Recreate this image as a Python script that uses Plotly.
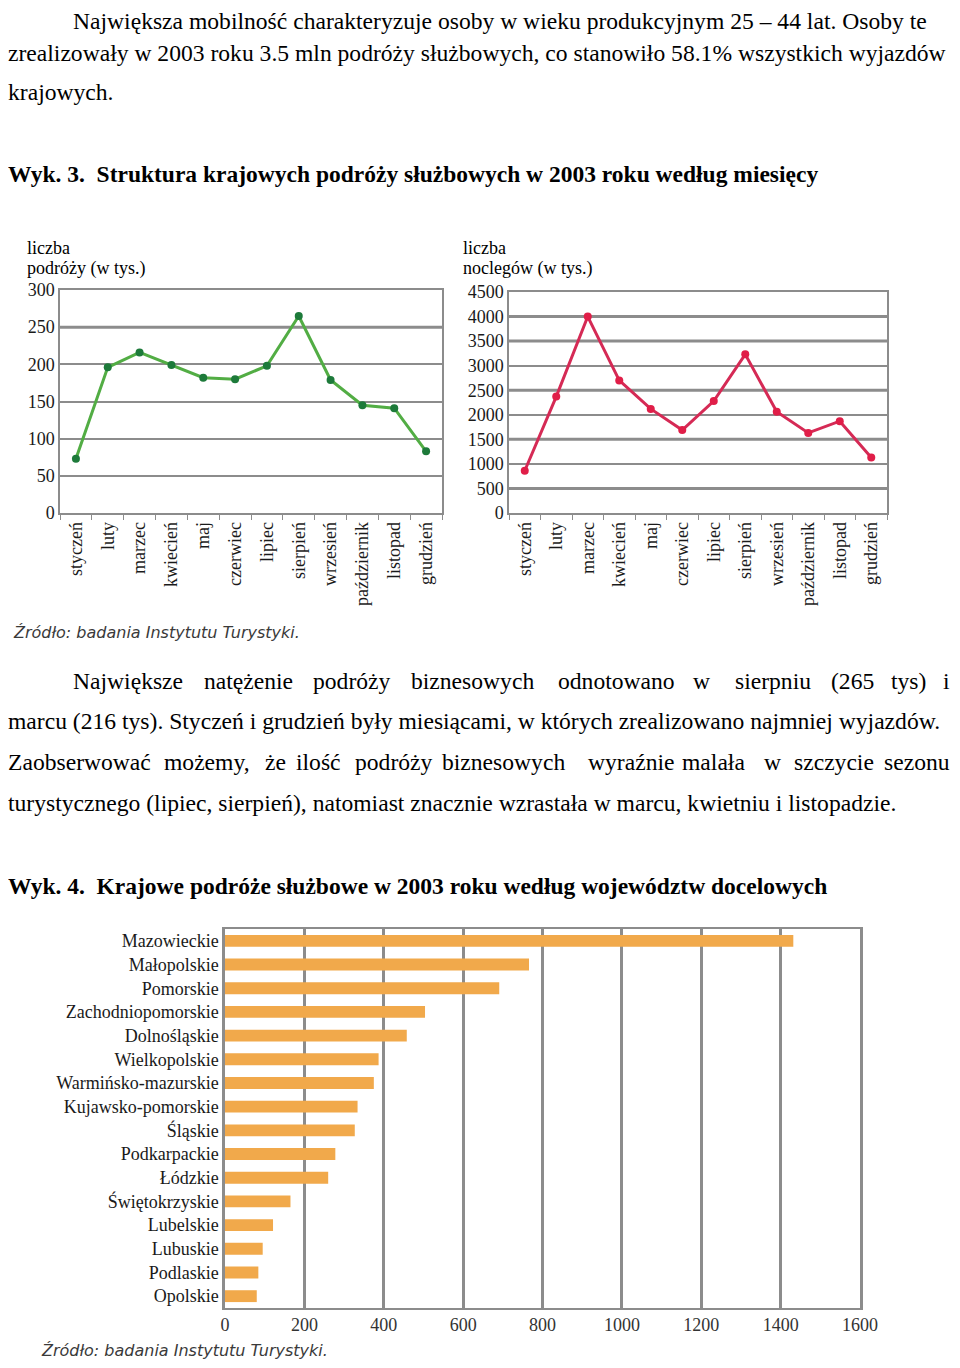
import plotly.graph_objects as go

# page body margin (8 px) is left around the figure, so the figure is sized
# to fit inside the window without scrollbars
W, H = 944, 1352
OFF = 8

months = ["styczeń", "luty", "marzec", "kwiecień", "maj", "czerwiec", "lipiec",
          "sierpień", "wrzesień", "październik", "listopad", "grudzień"]
trips = [73, 196, 216, 199, 182, 180, 198, 265, 179, 145, 141, 83]
nights = [860, 2370, 4000, 2700, 2120, 1690, 2280, 3230, 2060, 1630, 1870, 1130]

regions = ["Mazowieckie", "Małopolskie", "Pomorskie", "Zachodniopomorskie",
           "Dolnośląskie", "Wielkopolskie", "Warmińsko-mazurskie",
           "Kujawsko-pomorskie", "Śląskie", "Podkarpackie", "Łódzkie",
           "Świętokrzyskie", "Lubelskie", "Lubuskie", "Podlaskie", "Opolskie"]
region_trips = [1432, 766, 691, 504, 458, 387, 375, 334, 327, 278, 260,
                165, 121, 95, 84, 80]

SERIF = "Liberation Serif"
GRID = "#8c8c8c"
BODY = 23.6


def px(x):
    return (x - OFF) / W


def py(y):
    return 1 - (y - OFF) / H


fig = go.Figure()

fig.add_trace(go.Scatter(
    x=months, y=trips, mode="lines+markers", xaxis="x", yaxis="y",
    line=dict(color="#52ad44", width=3),
    marker=dict(color="#1d7a3a", size=8), showlegend=False))
fig.add_trace(go.Scatter(
    x=months, y=nights, mode="lines+markers", xaxis="x2", yaxis="y2",
    line=dict(color="#d52a55", width=3),
    marker=dict(color="#e01e48", size=8), showlegend=False))
fig.add_trace(go.Bar(
    y=regions, x=region_trips, orientation="h", xaxis="x3", yaxis="y3",
    marker=dict(color="#f1a94b", line=dict(width=0)), width=0.5,
    showlegend=False))

tickfont = dict(family=SERIF, size=18, color="#1a1a1a")

cat_x = dict(type="category", range=[-0.5, 11.5], tickangle=-90,
             tickfont=dict(family=SERIF, size=18, color="#1a1a1a"),
             showgrid=False, showline=True, linecolor=GRID, linewidth=1.5,
             mirror=True, ticks="outside", tickson="boundaries", ticklen=5,
             tickcolor=GRID, automargin=False)

fig.update_layout(
    width=W, height=H,
    margin=dict(l=0, r=0, t=0, b=0, pad=0),
    paper_bgcolor="white", plot_bgcolor="white",
    xaxis=dict(domain=[px(60), px(442)], anchor="y", **cat_x),
    yaxis=dict(domain=[py(513), py(290)], anchor="x", range=[0, 300],
               dtick=50, tickfont=tickfont, showgrid=True, gridcolor=GRID,
               gridwidth=1.5, showline=True, linecolor=GRID, linewidth=1.5,
               mirror=True, ticks="", zeroline=False, automargin=False,
               ticklabelstandoff=0),
    xaxis2=dict(domain=[px(509), px(887)], anchor="y2", **cat_x),
    yaxis2=dict(domain=[py(513), py(292)], anchor="x2", range=[0, 4500],
                dtick=500, tickfont=tickfont, showgrid=True, gridcolor=GRID,
                gridwidth=1.5, showline=True, linecolor=GRID, linewidth=1.5,
                mirror=True, ticks="", zeroline=False, automargin=False,
                ticklabelstandoff=0),
    xaxis3=dict(domain=[px(225), px(860)], anchor="y3", range=[0, 1600],
                dtick=200, tickfont=dict(family=SERIF, size=18, color="#333"),
                showgrid=True, gridcolor=GRID, gridwidth=2.5, showline=True,
                linecolor=GRID, linewidth=1.5, mirror=True, ticks="",
                zeroline=False, automargin=False),
    yaxis3=dict(domain=[py(1308), py(929)], anchor="x3",
                type="category", range=[15.5, -0.5],
                tickfont=dict(family=SERIF, size=18, color="#1a1a1a"),
                showline=True, linecolor=GRID, linewidth=2.5, mirror=True,
                ticks="", ticklabelstandoff=0, automargin=False),
)

# the scanned original has a few heavier grid lines
heavy = [("y", 250), ("y2", 500), ("y2", 1500), ("y2", 2500), ("y2", 3500),
         ("y2", 4000)]
shapes = []
for ref, val in heavy:
    xref = "x domain" if ref == "y" else "x2 domain"
    shapes.append(dict(type="line", xref=xref, yref=ref, x0=0, x1=1,
                       y0=val, y1=val, line=dict(color=GRID, width=3),
                       layer="below"))
fig.update_layout(shapes=shapes)

annotations = []


def text(x, y, s, size=BODY, family=SERIF, color="black", bold=False,
         italic=False):
    if bold:
        s = "<b>" + s + "</b>"
    if italic:
        s = "<i>" + s + "</i>"
    annotations.append(dict(
        x=px(x), y=py(y), xref="paper", yref="paper", text=s,
        showarrow=False, xanchor="left", yanchor="middle",
        borderpad=0, borderwidth=0,
        font=dict(family=family, size=size, color=color)))


def justified(y, words, starts):
    for w, x in zip(words, starts):
        text(x, y, w)


text(73, 21, "Największa mobilność charakteryzuje osoby w wieku produkcyjnym 25 – 44 lat. Osoby te")
text(8, 53, "zrealizowały w 2003 roku 3.5 mln podróży służbowych, co stanowiło 58.1% wszystkich wyjazdów")
text(8, 92, "krajowych.")
text(8, 174, "Wyk. 3.  Struktura krajowych podróży służbowych w 2003 roku według miesięcy",
     size=23.5, bold=True)

text(27, 248, "liczba", size=18)
text(27, 268, "podróży (w tys.)", size=18)
text(463, 248, "liczba", size=18)
text(463, 268, "noclegów (w tys.)", size=18)

src = "Źródło: badania Instytutu Turystyki."
text(13, 633, src, size=16, family="DejaVu Sans", color="#3a3a3a", italic=True)

justified(681, ["Największe", "natężenie", "podróży", "biznesowych", "odnotowano",
                "w", "sierpniu", "(265", "tys)", "i"],
          [73, 204, 313, 411, 558, 693, 735, 831, 891, 943])
text(8, 721, "marcu (216 tys). Styczeń i grudzień były miesiącami, w których zrealizowano najmniej wyjazdów.")
justified(762, ["Zaobserwować", "możemy,", "że", "ilość", "podróży", "biznesowych",
                "wyraźnie", "malała", "w", "szczycie", "sezonu"],
          [8, 164, 265, 296, 355, 442, 588, 682, 764, 794, 884])
text(8, 803, "turystycznego (lipiec, sierpień), natomiast znacznie wzrastała w marcu, kwietniu i listopadzie.")

text(8, 886, "Wyk. 4.  Krajowe podróże służbowe w 2003 roku według województw docelowych",
     size=23.5, bold=True)
text(41, 1350, src, size=16, family="DejaVu Sans", color="#3a3a3a", italic=True)

fig.update_layout(annotations=annotations)
fig.write_html("out.html")
